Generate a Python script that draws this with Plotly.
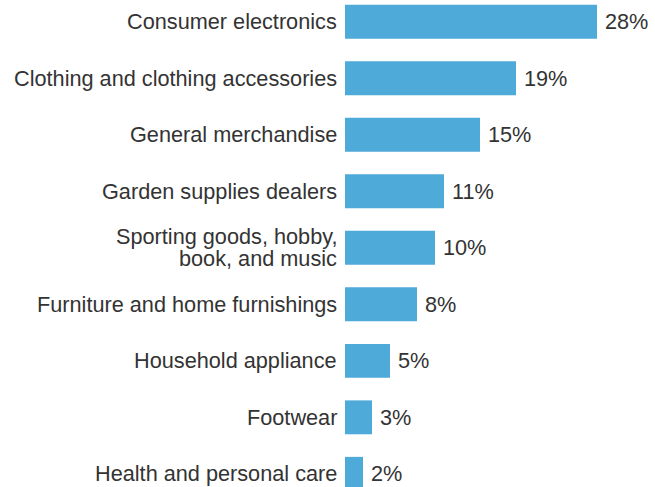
import plotly.graph_objects as go

# Share of sales by retail category (percent)
categories = [
    "Consumer electronics",
    "Clothing and clothing accessories",
    "General merchandise",
    "Garden supplies dealers",
    "Sporting goods, hobby,<br>book, and music",
    "Furniture and home furnishings",
    "Household appliance",
    "Footwear",
    "Health and personal care",
]
shares = [28, 19, 15, 11, 10, 8, 5, 3, 2]
share_labels = [f"{v}%" for v in shares]

BAR_COLOR = "#4EAAD8"
TEXT_COLOR = "#333333"
FONT = "Liberation Sans, Arial, sans-serif"
FONT_SIZE = 21.7
LINE_STEP = 22  # tight line spacing for wrapped category names

fig = go.Figure(
    go.Bar(
        x=shares,
        y=categories,
        orientation="h",
        marker=dict(color=BAR_COLOR, line=dict(width=0)),
        width=0.6,
        hoverinfo="skip",
    )
)

# Category names, right-aligned against the bar origin
for cat in categories:
    lines = cat.split("<br>")
    n = len(lines)
    for i, line in enumerate(lines):
        offset = ((n - 1) / 2 - i) * LINE_STEP
        fig.add_annotation(
            x=0, y=cat, text=line, showarrow=False,
            xanchor="right", yanchor="middle", xshift=-7, yshift=offset,
            borderpad=0,
            font=dict(family=FONT, size=FONT_SIZE, color=TEXT_COLOR),
        )

# Value labels just past the end of each bar
for cat, val, lab in zip(categories, shares, share_labels):
    fig.add_annotation(
        x=val, y=cat, text=lab, showarrow=False,
        xanchor="left", yanchor="middle", xshift=6,
        font=dict(family=FONT, size=FONT_SIZE, color=TEXT_COLOR),
    )

fig.update_layout(
    width=655,
    height=487,
    margin=dict(l=345, r=0, t=0, b=0),
    paper_bgcolor="white",
    plot_bgcolor="white",
    showlegend=False,
    font=dict(family=FONT, size=FONT_SIZE, color=TEXT_COLOR),
    xaxis=dict(
        range=[0, 310 / 9.0],
        visible=False,
        fixedrange=True,
    ),
    yaxis=dict(
        type="category",
        range=[8.233, -0.386],
        showgrid=False,
        zeroline=False,
        showline=False,
        ticks="",
        showticklabels=False,
        fixedrange=True,
    ),
)

fig.write_html("out.html")
